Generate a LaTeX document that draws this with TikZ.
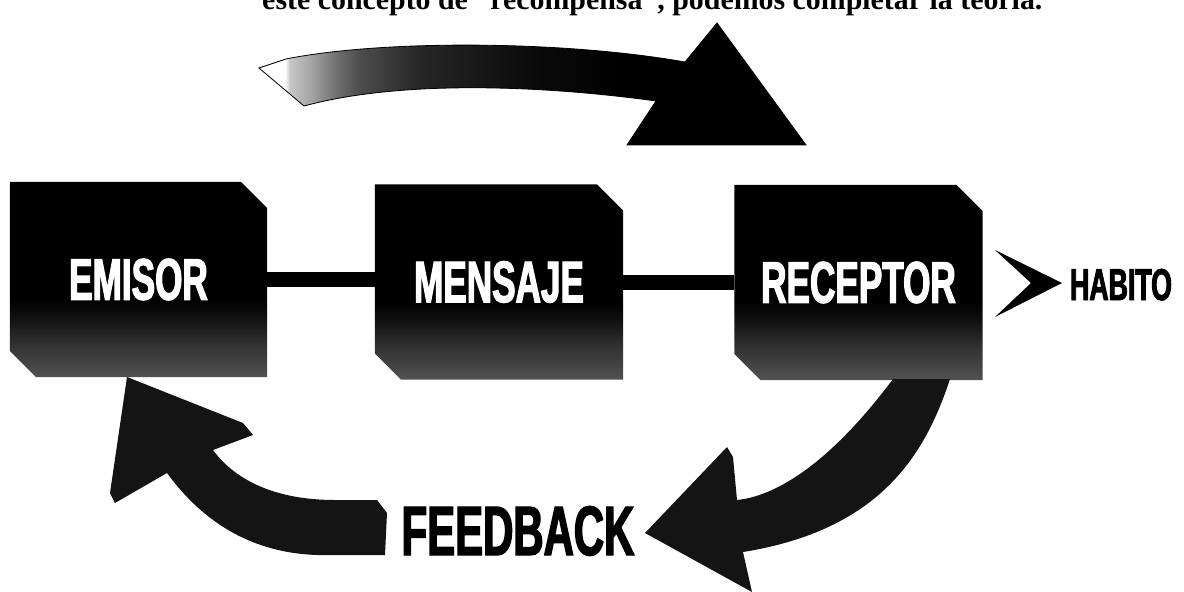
\documentclass[tikz,border=0pt]{standalone}
\usepackage{fontspec}
\setmainfont{Liberation Serif}
\newfontfamily\blockfont[FakeStretch=0.6,FakeBold=2]{Liberation Sans}
\usetikzlibrary{shapes.misc,positioning}

% halftone look of the blocks and of the upper arrow
\pgfdeclareverticalshading{blockfade}{100bp}{color(0bp)=(black!68); color(25bp)=(black!68); color(33bp)=(black!80); color(40bp)=(black!93); color(45bp)=(black); color(100bp)=(black)}
\pgfdeclarehorizontalshading{tailfade}{100bp}{color(0bp)=(white); color(27.4bp)=(white); color(27.8bp)=(black!22); color(29.7bp)=(black!35); color(31.9bp)=(black!55); color(34.2bp)=(black!70); color(39.7bp)=(black!85); color(48.9bp)=(black!95); color(58bp)=(black); color(100bp)=(black)}

\tikzset{
  block/.style={chamfered rectangle, chamfered rectangle corners={north east,south west},
    chamfered rectangle xsep=0.3cm, chamfered rectangle ysep=0.48cm,
    minimum width=7.45cm, minimum height=5.85cm, inner sep=0pt,
    shade, shading=blockfade, text=white,
    font={\blockfont\bfseries\fontsize{50}{50}\selectfont}},
  link/.style={line width=0.45cm},
  bigarrow/.style={fill=black!92},
  tag/.style={inner sep=0pt, font={\blockfont\bfseries\fontsize{38}{38}\selectfont}}
}

\begin{document}
\begin{tikzpicture}[x=0.03cm,y=-0.03cm]
    \useasboundingbox (0,0) rectangle (1184,592);

    % Line of text above
    \node[anchor=base west, inner sep=0pt, font=\bfseries\fontsize{25.5}{25.5}\selectfont] (lead) at (262,10)
        {este concepto de “recompensa”, podemos completar la teoría.};

    % Upper arrow
    \shade[shading=tailfade, draw=black, line width=0.7pt]
        (259,68) -- (286,59) .. controls (380,40) and (560,40) .. (685,62)
        -- (717,23) -- (806,145) -- (627,145) -- (656,101)
        .. controls (540,85) and (400,80) .. (304,106) -- cycle;

    % Blocks
    \node[block, minimum width=7.71cm] (emisor) at (138.5,279.5) {EMISOR};
    \node[block] (mensaje) at (499,282) {MENSAJE};
    \node[block] (receptor) at (858.5,282.5) {RECEPTOR};

    \draw[link] (emisor.east) -- (emisor.east -| mensaje.west);
    \draw[link] (mensaje.east) -- (mensaje.east -| receptor.west);

    % Habito
    \node[tag, anchor=base] (habito) at (1121,300) {HABITO};
    \fill (995,250) -- (1062,283) -- (995,317) -- (1031,283) -- cycle;

    % Feedback and its two arrows
    \node[tag, anchor=base, font={\blockfont\bfseries\fontsize{59.6}{59.6}\selectfont}] (feedback) at (518,555) {FEEDBACK};

    \fill[bigarrow] (893,379) -- (950,379)
        .. controls (925,455) and (880,530) .. (743,552)
        -- (752,592) -- (645,533) -- (727,447) -- (733,457) -- (737,500)
        .. controls (785,495) and (840,450) .. (893,379) -- cycle;

    \fill[bigarrow] (127,377) -- (243,423) -- (253,435) -- (213,450)
        .. controls (235,480) and (275,500) .. (335,500) -- (377,500)
        -- (387,513) -- (385,555) -- (317,555)
        .. controls (255,553) and (205,525) .. (167,473)
        -- (115,503) -- (110,493) -- cycle;

\end{tikzpicture}
\end{document}
